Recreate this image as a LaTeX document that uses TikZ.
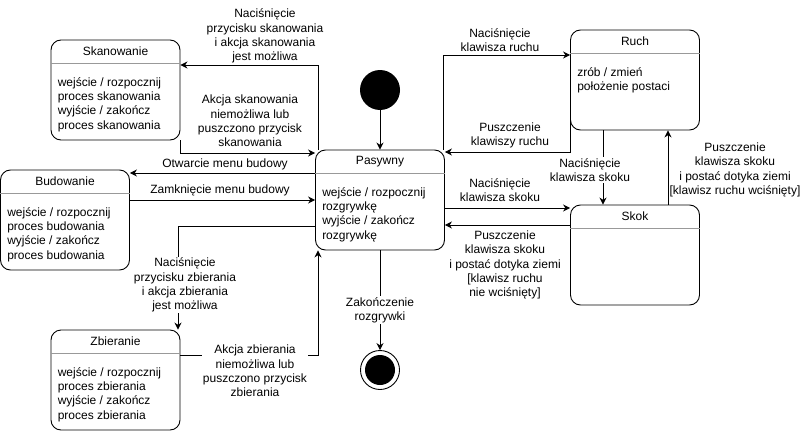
\documentclass[tikz,border=0pt]{standalone}
\usepackage{fontspec}
\setmainfont{Liberation Sans}
\usetikzlibrary{arrows.meta}
\definecolor{sepgray}{gray}{0.6}
\begin{document}
\begin{tikzpicture}[x=1pt,y=-1pt,
  every node/.style={font=\fontsize{12}{14.2}\selectfont},
  state/.style={draw, rounded corners=10pt, minimum width=129pt, minimum height=100pt, inner sep=0pt, line width=0.9pt},
  stitle/.style={inner sep=0pt, anchor=center},
  sepline/.style={draw=sepgray, line width=0.9pt},
  sbody/.style={anchor=north west, inner sep=0pt, align=left},
  arr/.style={draw, line width=0.9pt, -{Stealth[length=7pt,width=7pt]}},
  lbl/.style={fill=white, align=center, inner sep=1pt}
]
\useasboundingbox (0,0) rectangle (811,431);

% states
\node[state] (skan) at (115.5,90) {};
\node[state] (bud) at (65,220) {};
\node[state] (pas) at (380,200) {};
\node[state] (zbier) at (115.5,380) {};
\node[state] (ruch) at (635,80) {};
\node[state] (skok) at (635,255) {};

\foreach \n in {skan,bud,pas,zbier,ruch,skok}{
  \draw[sepline] ([yshift=-24pt]\n.north west) -- ([yshift=-24pt]\n.north east);
}

\node[stitle] (skant) at ([yshift=-12pt]skan.north) {Skanowanie};
\node[stitle] (budt) at ([yshift=-12pt]bud.north) {Budowanie};
\node[stitle] (past) at ([yshift=-12pt]pas.north) {Pasywny};
\node[stitle] (zbiert) at ([yshift=-12pt]zbier.north) {Zbieranie};
\node[stitle] (rucht) at ([yshift=-12pt]ruch.north) {Ruch};
\node[stitle] (skokt) at ([yshift=-12pt]skok.north) {Skok};

\node[sbody] (skanb) at ([xshift=7pt,yshift=-38pt]skan.north west) {wejście / rozpocznij\\proces skanowania\\wyjście / zakończ\\proces skanowania};
\node[sbody] (budb) at ([xshift=7pt,yshift=-38pt]bud.north west) {wejście / rozpocznij\\proces budowania\\wyjście / zakończ\\proces budowania};
\node[sbody] (pasb) at ([xshift=7pt,yshift=-38pt]pas.north west) {wejście / rozpocznij\\rozgrywkę\\wyjście / zakończ\\rozgrywkę};
\node[sbody] (zbierb) at ([xshift=7pt,yshift=-38pt]zbier.north west) {wejście / rozpocznij\\proces zbierania\\wyjście / zakończ\\proces zbierania};
\node[sbody] (ruchb) at ([xshift=7pt,yshift=-38pt]ruch.north west) {zrób / zmień\\położenie postaci};

% initial and final
\node[circle, fill=black, minimum size=40pt, inner sep=0pt] (init) at (380,90) {};
\node[circle, draw, line width=0.9pt, minimum size=39pt, inner sep=0pt] (fin) at (380,370) {};
\node[circle, fill=black, minimum size=30pt, inner sep=0pt] (finin) at (fin) {};

% connectors
\draw[arr] (init.south) -- (pas.north);
\draw[arr] ([xshift=-62pt]pas.north) |- (skan.east |- 0,65);
\draw[arr] (skan.south east) |- (pas.west |- 0,153);
\draw[arr] (pas.west |- 0,173) -- (bud.east |- 0,173);
\draw[arr] (bud.east |- 0,200) -- (pas.west |- 0,200);
\draw[arr] (pas.west |- 0,226) -| ([xshift=62.5pt]zbier.north);
\draw[arr] (zbier.east |- 0,355) -| ([xshift=-62pt]pas.south);
\draw[arr] ([xshift=63pt]pas.north) |- (ruch.west |- 0,55);
\draw[arr] (ruch.west |- 0,120) |- (pas.east |- 0,152);
\draw[arr] ([xshift=-32pt]ruch.south) -- ([xshift=-32pt]skok.north);
\draw[arr] ([xshift=33pt]skok.north) -- ([xshift=33pt]ruch.south);
\draw[arr] (pas.east |- 0,208) -- (skok.west |- 0,208);
\draw[arr] (skok.west |- 0,225) -- (pas.east |- 0,225);
\draw[arr] (pas.south) -- (fin.north);

% labels
\node[lbl] (l1) at (265,36) {Naciśnięcie\\przycisku skanowania\\i akcja skanowania\\jest możliwa};
\node[lbl] (l2) at (250,121) {Akcja skanowania\\niemożliwa lub\\puszczono przycisk\\skanowania};
\node[lbl] (l3) at (225,164) {Otwarcie menu budowy};
\node[lbl] (l4) at (220,190) {Zamknięcie menu budowy};
\node[lbl] (l5) at (185,285) {Naciśnięcie\\przycisku zbierania\\i akcja zbierania\\jest możliwa};
\node[lbl] (l6) at (255,371) {Akcja zbierania\\niemożliwa lub\\puszczono przycisk\\zbierania};
\node[lbl] (l7) at (500,40) {Naciśnięcie\\klawisza ruchu};
\node[lbl] (l8) at (510,135) {Puszczenie\\klawiszy ruchu};
\node[lbl] (l9) at (590,170) {Naciśnięcie\\klawisza skoku};
\node[lbl] (l10) at (735,170) {Puszczenie\\klawisza skoku\\i postać dotyka ziemi\\{[klawisz ruchu wciśnięty]}};
\node[lbl] (l11) at (500,190) {Naciśnięcie\\klawisza skoku};
\node[lbl] (l12) at (505,265) {Puszczenie\\klawisza skoku\\i postać dotyka ziemi\\{[klawisz ruchu}\\nie wciśnięty]};
\node[lbl] (l13) at (380,310) {Zakończenie\\rozgrywki};
\end{tikzpicture}
\end{document}
